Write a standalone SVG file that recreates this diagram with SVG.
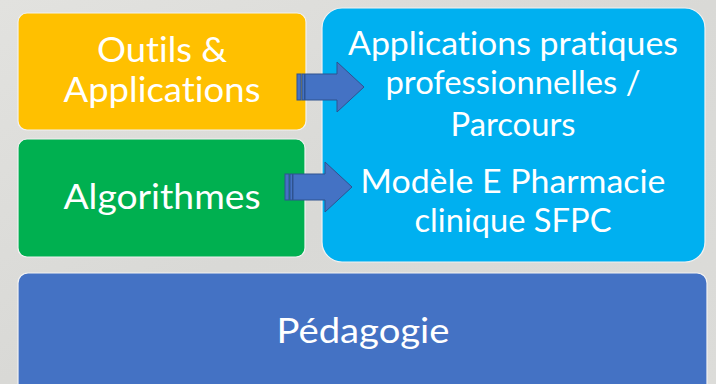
<svg xmlns="http://www.w3.org/2000/svg" width="716" height="384" viewBox="0 0 716 384">
  <defs>
    <linearGradient id="bg" x1="0" y1="0" x2="1" y2="1">
      <stop offset="0" stop-color="#e2e2df"/>
      <stop offset="0.5" stop-color="#d9d9d6"/>
      <stop offset="1" stop-color="#dcdcd9"/>
    </linearGradient>
  </defs>
  <style>
    .box { stroke: #f2f2f2; stroke-width: 1.2; }
    .t { fill: #ffffff; font-family: Lato, "Open Sans", "Liberation Sans", sans-serif; text-anchor: middle; font-variant-ligatures: none; font-feature-settings: "liga" 0, "dlig" 0; }
    .big { font-size: 34px; }
    .mid { font-size: 32px; }
    .arrow { fill: #4472C4; stroke: #2F528F; stroke-width: 1; }
  </style>
  <rect x="0" y="0" width="716" height="384" fill="url(#bg)"/>

  <g id="node-outils">
    <rect class="box" x="18" y="13" width="288" height="117" rx="9" fill="#FFC000"/>
    <text class="t big" x="162" y="62" textLength="130" lengthAdjust="spacingAndGlyphs">Outils &amp;</text>
    <text class="t big" x="162" y="102" textLength="197" lengthAdjust="spacingAndGlyphs">Applications</text>
  </g>

  <g id="node-algorithmes">
    <rect class="box" x="18" y="139" width="287" height="118" rx="9" fill="#00B050"/>
    <text class="t big" x="162" y="209" textLength="197" lengthAdjust="spacingAndGlyphs">Algorithmes</text>
  </g>

  <g id="node-applications">
    <rect class="box" x="322" y="8" width="383" height="254" rx="20" fill="#00B0F0"/>
    <text class="t mid" x="513" y="55" textLength="330" lengthAdjust="spacingAndGlyphs">Applications pratiques</text>
    <text class="t mid" x="513" y="94" textLength="255" lengthAdjust="spacingAndGlyphs">professionnelles /</text>
    <text class="t mid" x="513" y="136" textLength="125" lengthAdjust="spacingAndGlyphs">Parcours</text>
    <text class="t mid" x="513" y="193" textLength="305" lengthAdjust="spacingAndGlyphs">Modèle E Pharmacie</text>
    <text class="t mid" x="513" y="232" textLength="197" lengthAdjust="spacingAndGlyphs">clinique SFPC</text>
  </g>

  <g id="node-pedagogie">
    <rect class="box" x="18" y="273" width="689" height="125" rx="10" fill="#4472C4"/>
    <text class="t big" x="363" y="343" textLength="173" lengthAdjust="spacingAndGlyphs">Pédagogie</text>
  </g>

  <g id="connectors">
    <g id="arrow-1">
      <rect class="arrow" x="297" y="74" width="4" height="26"/>
      <rect class="arrow" x="302" y="74" width="2.5" height="26"/>
      <path class="arrow" d="M305 74 H337 V62 L364 87 L337 112 V100 H305 Z"/>
    </g>
    <g id="arrow-2">
      <rect class="arrow" x="285" y="174" width="4" height="26"/>
      <rect class="arrow" x="290" y="174" width="2.5" height="26"/>
      <path class="arrow" d="M293 174 H325 V162 L352 187 L325 212 V200 H293 Z"/>
    </g>
  </g>
</svg>
